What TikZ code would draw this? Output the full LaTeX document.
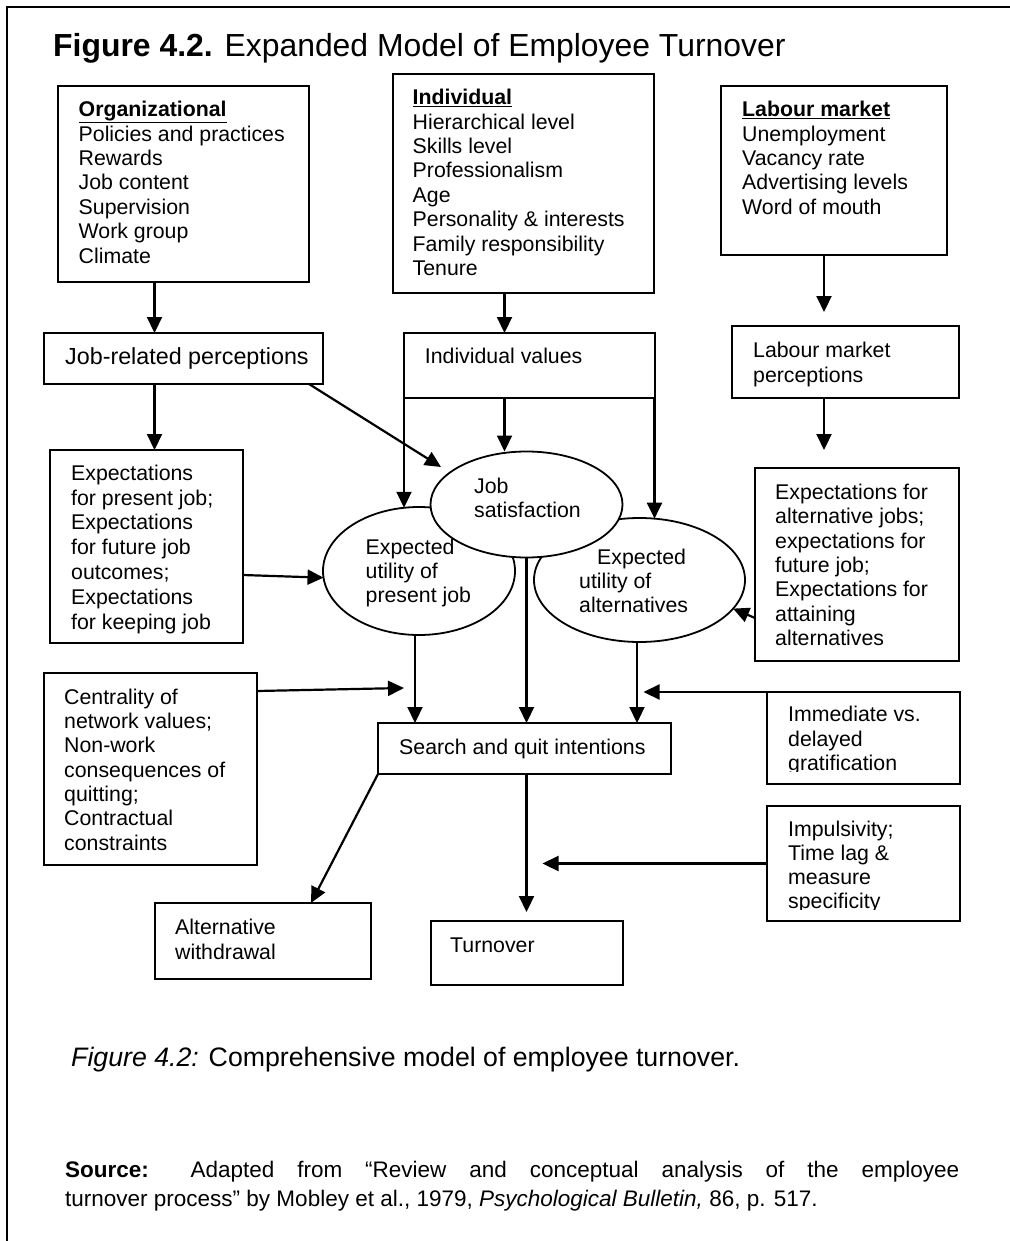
\documentclass[tikz,border=0pt]{standalone}
\usepackage{fontspec}
\setmainfont{Liberation Sans}
\usetikzlibrary{arrows.meta,shapes.geometric}
\newcommand\firstln{\rule{0pt}{17pt}}
\begin{document}
\begin{tikzpicture}[x=1pt,y=-1pt,
  box/.style={draw, line width=2pt, rectangle, inner sep=0pt, outer sep=0pt},
  oval/.style={draw, line width=1.8pt, ellipse, inner sep=0pt, outer sep=0pt, fill=white},
  txt/.style={anchor=north west, inner sep=0pt, align=left, font=\fontsize{21.3}{24.4}\selectfont},
  arr/.style={line width=2.2pt, -{Triangle[length=16pt,width=15pt]}},
  head/.style={anchor=base west, inner sep=0pt},
]
\fill[white] (0,0) rectangle (1009,1241);
\useasboundingbox (0,0) rectangle (1009,1241);

% outer frame
\draw[line width=2.4pt] (7,1245) -- (7,7) -- (1013,7);

% title
\node[head, font=\fontsize{31.9}{36}\selectfont] (title) at (53,57)
  {\textbf{Figure 4.2.} Expanded Model of Employee Turnover};

% boxes
\node[box, minimum width=251pt, minimum height=196pt] (org) at (183.5,184) {};
\node[box, minimum width=261pt, minimum height=219pt] (ind) at (523.5,183.5) {};
\node[box, minimum width=226pt, minimum height=169pt] (lab) at (834,170.5) {};
\node[box, minimum width=279pt, minimum height=51pt] (jrp) at (183.5,358.5) {};
\node[box, minimum width=250.5pt, minimum height=65pt] (iv) at (529.25,365.5) {};
\node[box, minimum width=227pt, minimum height=72pt] (lmp) at (845.5,362) {};
\node[box, minimum width=193pt, minimum height=193pt] (epj) at (146.5,546.5) {};
\node[box, minimum width=204pt, minimum height=193pt] (eaj) at (857,564.5) {};
\node[box, minimum width=213pt, minimum height=192pt] (cen) at (150.5,769) {};
\node[box, minimum width=292.5pt, minimum height=51pt] (sqi) at (524.25,748.5) {};
\node[box, minimum width=193pt, minimum height=92pt] (imm) at (863.5,738) {};
\node[box, minimum width=193pt, minimum height=115pt] (imp) at (863.5,863.5) {};
\node[box, minimum width=216pt, minimum height=76pt] (alt) at (262.5,941) {};
\node[box, minimum width=192pt, minimum height=64pt] (turn) at (527,953) {};

% ovals (job satisfaction drawn last, on top)
\node[oval, minimum width=192pt, minimum height=128pt] (eup) at (419,571) {};
\node[oval, minimum width=211pt, minimum height=124pt] (eua) at (639.5,580) {};
\node[oval, minimum width=192pt, minimum height=106pt] (js) at (526.5,504.5) {};

% box texts
\node[txt] (t-org) at (78.5,99.5) {\firstln\underline{\textbf{Organizational}}\\ Policies and practices\\ Rewards\\ Job content\\ Supervision\\ Work group\\ Climate};
\node[txt] (t-ind) at (412.5,87.5) {\firstln\underline{\textbf{Individual}}\\ Hierarchical level\\ Skills level\\ Professionalism\\ Age\\ Personality \& interests\\ Family responsibility\\ Tenure};
\node[txt] (t-lab) at (742,99.5) {\firstln\underline{\textbf{Labour market}}\\ Unemployment\\ Vacancy rate\\ Advertising levels\\ Word of mouth};
\node[txt, font=\fontsize{23.3}{27}\selectfont] (t-jrp) at (65,345.5) {\rule{0pt}{18.8pt}Job-related perceptions};
\node[txt] (t-iv) at (424.7,346.5) {\firstln Individual values};
\node[txt, font=\fontsize{21.3}{25}\selectfont] (t-lmp) at (753,340) {\firstln Labour market\\ perceptions};
\node[txt, font=\fontsize{21.3}{24.8}\selectfont] (t-epj) at (71,463) {\firstln Expectations\\ for present job;\\ Expectations\\ for future job\\ outcomes;\\ Expectations\\ for keeping job};
\node[txt] (t-eaj) at (775,482) {\firstln Expectations for\\ alternative jobs;\\ expectations for\\ future job;\\ Expectations for\\ attaining\\ alternatives};
\node[txt, font=\fontsize{21.3}{24}\selectfont] (t-js) at (474,476) {\firstln Job\\ satisfaction};
\node[txt, font=\fontsize{21.3}{24}\selectfont] (t-eup) at (365.5,537) {\firstln Expected\\ utility of\\ present job};
\node[txt, font=\fontsize{21.3}{24}\selectfont] (t-eua) at (579,547) {\firstln\hspace*{18pt}Expected\\ utility of\\ alternatives};
\node[txt, font=\fontsize{21.3}{24.3}\selectfont] (t-cen) at (64,687) {\firstln Centrality of\\ network values;\\ Non-work\\ consequences of\\ quitting;\\ Contractual\\ constraints};
\node[txt] (t-sqi) at (399,737) {\firstln Search and quit intentions};
\begin{scope}
  \clip (770,700) rectangle (955,771.8);
  \node[txt, font=\fontsize{21.3}{24.2}\selectfont] (t-imm) at (788,704.7) {\firstln Immediate vs.\\ delayed\\ gratification};
\end{scope}
\begin{scope}
  \clip (770,810) rectangle (955,909.8);
  \node[txt, font=\fontsize{21.3}{23.8}\selectfont] (t-imp) at (788,819.7) {\firstln Impulsivity;\\ Time lag \&\\ measure\\ specificity};
\end{scope}
\node[txt, font=\fontsize{21.3}{25}\selectfont] (t-alt) at (175,917) {\firstln Alternative\\ withdrawal};
\node[txt] (t-turn) at (450,935) {\firstln Turnover};

% column positions of the vertical connectors
\coordinate (xA) at (154.5,0);
\coordinate (xB) at (504.5,0);
\coordinate (xC) at (824,0);
\coordinate (xP) at (415,0);
\coordinate (xE) at (637,0);
\coordinate (xW) at (311,0);

% free arrow ends
\coordinate (labTip) at (824,312);
\coordinate (lmpTip) at (824,450);
\coordinate (jsTip) at (441,467);
\coordinate (cenTip) at (404,688);
\coordinate (immTip) at (643.5,692);
\coordinate (impTip) at (542.5,863.5);
\coordinate (turnTip) at (526.5,912);

% connectors
\draw[arr] (org.south -| xA) -- (jrp.north -| xA);
\draw[arr] (ind.south -| xB) -- (iv.north -| xB);
\draw[arr] (lab.south -| xC) -- (labTip);
\draw[arr] (jrp.south -| xA) -- (epj.north -| xA);
\draw[arr] ([xshift=-14pt]jrp.south east) -- (jsTip);
\draw[arr] (iv.south west) -- (iv.south west |- eup.103.3);
\draw[arr] (iv.south -| xB) -- (js.north -| xB);
\draw[arr] (iv.south east) -- (iv.south east |- eua.76.3);
\draw[arr] (lmp.south -| xC) -- (lmpTip);
\draw[arr] ([yshift=-28.5pt]epj.east) -- (eup.184);
\draw[arr] ([yshift=-53.5pt]eaj.west) -- (eua.343.5);
\draw[arr] (eup.south -| xP) -- (sqi.north -| xP);
\draw[arr] (js.south) -- (js.south |- sqi.north);
\draw[arr] (eua.south -| xE) -- (sqi.north -| xE);
\draw[arr] ([yshift=78pt]cen.east) -- (cenTip);
\draw[arr] (imm.north west) -- (immTip);
\draw[arr] (imp.west) -- (impTip);
\draw[arr] (sqi.south -| js.south) -- (turnTip);
\draw[arr] (sqi.south west) -- (alt.north -| xW);

% caption and source
\node[head, font=\fontsize{26.7}{32}\selectfont] (caption) at (71,1066)
  {\textit{Figure 4.2:} Comprehensive model of employee turnover.};
\node[anchor=north west, inner sep=0pt, text width=894pt, align=justify,
      font=\fontsize{22.5}{29}\selectfont] (source) at (65,1159)
  {\rule{0pt}{18pt}\textbf{Source:} Adapted from “Review and conceptual analysis of the employee\linebreak
   turnover process” by Mobley et al., 1979, \textit{Psychological Bulletin,} 86, p. 517.};
\end{tikzpicture}
\end{document}
